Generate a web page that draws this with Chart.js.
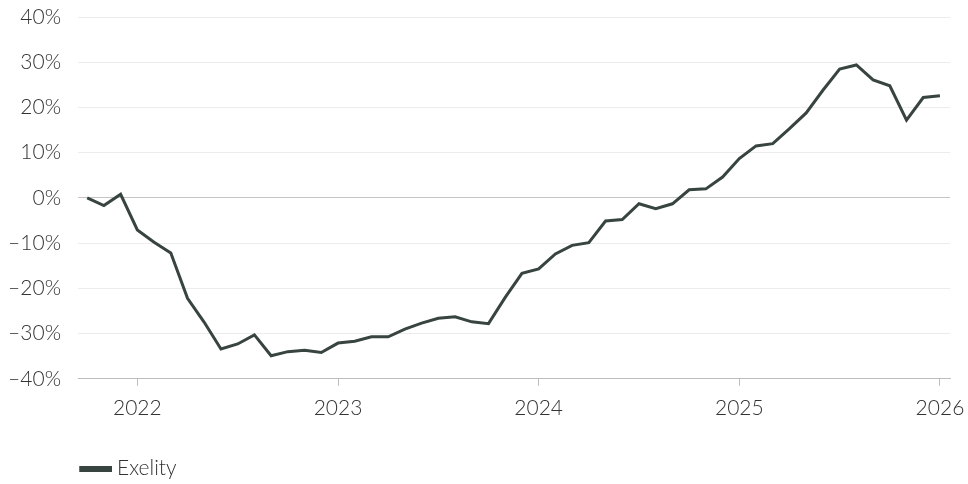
<!DOCTYPE html>
<html>
<head>
<meta charset="utf-8">
<script src="https://cdn.jsdelivr.net/npm/chart.js@4/dist/chart.umd.min.js"></script>
<style>
  html, body { margin: 0; padding: 0; background: #fff; }
  #wrap { width: 968px; height: 484px; position: relative; }
</style>
</head>
<body>
<div id="wrap"><canvas id="rel1"></canvas></div>
<script>
// meses (inicio de cada mes)
var months = [
  '2021-10','2021-11','2021-12',
  '2022-01','2022-02','2022-03','2022-04','2022-05','2022-06','2022-07','2022-08','2022-09','2022-10','2022-11','2022-12',
  '2023-01','2023-02','2023-03','2023-04','2023-05','2023-06','2023-07','2023-08','2023-09','2023-10','2023-11','2023-12',
  '2024-01','2024-02','2024-03','2024-04','2024-05','2024-06','2024-07','2024-08','2024-09','2024-10','2024-11','2024-12',
  '2025-01','2025-02','2025-03','2025-04','2025-05','2025-06','2025-07','2025-08','2025-09','2025-10','2025-11','2025-12',
  '2026-01'
];
// retorno acumulado em %
var exelity = [
  0, -1.7, 0.8,
  -7.1, -9.8, -12.2, -22.2, -27.5, -33.4, -32.3, -30.3, -34.9, -34.0, -33.7, -34.2,
  -32.1, -31.7, -30.7, -30.7, -29.0, -27.7, -26.6, -26.3, -27.4, -27.8, -22.0, -16.7,
  -15.7, -12.4, -10.5, -9.9, -5.1, -4.8, -1.3, -2.4, -1.3, 1.8, 2.0, 4.6,
  8.7, 11.5, 12.0, 15.3, 18.8, 23.8, 28.5, 29.4, 26.1, 24.8, 17.2, 22.2,
  22.6
];
var year_labels = ['2022', '2023', '2024', '2025', '2026'];
var y_ticks = [-40, -30, -20, -10, 0, 10, 20, 30, 40];

var lineColor = '#38443f';
var yearIdx = year_labels.map(function (y) { return months.indexOf(y + '-01'); });
var fonte = 'Lato, "Open Sans", sans-serif';

// marca da legenda: barra de 33x6 encostada a direita de uma imagem de 40px
var marca = document.createElement('canvas');
marca.width = 40; marca.height = 6;
var mctx = marca.getContext('2d');
mctx.fillStyle = lineColor;
mctx.fillRect(7, 0, 33, 6);

var rel1 = new Chart(document.getElementById('rel1'), {
  type: 'line',
  data: {
    datasets: [{
      label: 'Exelity',
      data: exelity.map(function (v, i) { return { x: i, y: v }; }),
      borderColor: lineColor,
      backgroundColor: lineColor,
      borderWidth: 3,
      pointRadius: 0,
      tension: 0,
      fill: false
    }]
  },
  options: {
    responsive: true,
    maintainAspectRatio: false,
    animation: false,
    layout: { padding: { top: 0, right: 0, left: 0, bottom: -5 } },
    scales: {
      x: {
        type: 'linear',
        min: -0.55,
        max: 51.6,
        afterBuildTicks: function (axis) {
          axis.ticks = yearIdx.map(function (v) { return { value: v }; });
        },
        afterFit: function (axis) {
          axis.height += 27;
          axis.paddingLeft = 0;
          axis.paddingRight = 18;
        },
        ticks: {
          autoSkip: false,
          maxRotation: 0,
          padding: 10,
          color: '#333',
          font: { family: fonte, size: 21, weight: 300 },
          callback: function (v) {
            var k = yearIdx.indexOf(v);
            return k >= 0 ? year_labels[k] : '';
          }
        },
        grid: {
          drawOnChartArea: false,
          drawTicks: true,
          tickLength: 7,
          color: '#bdbdbd'
        },
        border: { display: true, color: '#bdbdbd', width: 1 }
      },
      y: {
        min: -40,
        max: 40,
        afterBuildTicks: function (axis) {
          axis.ticks = y_ticks.map(function (v) { return { value: v }; });
        },
        afterFit: function (axis) {
          axis.width = 78;
          axis.paddingTop = 17;
          axis.paddingBottom = 0;
        },
        ticks: {
          padding: 17,
          color: '#333',
          font: { family: fonte, size: 21, weight: 300 },
          callback: function (v) { return (v < 0 ? '\u2013' + Math.abs(v) : v) + '%'; }
        },
        grid: {
          drawTicks: false,
          color: function (ctx) { return ctx.tick && ctx.tick.value === 0 ? '#c4c4c4' : '#ececec'; },
          lineWidth: 1
        },
        border: { display: false }
      }
    },
    plugins: {
      tooltip: { enabled: false },
      legend: {
        position: 'bottom',
        align: 'start',
        fullSize: false,
        labels: {
          usePointStyle: true,
          pointStyleWidth: 28.5,
          boxHeight: 6,
          padding: 0,
          color: '#333',
          font: { family: fonte, size: 21, weight: 300 },
          generateLabels: function (chart) {
            return Chart.defaults.plugins.legend.labels.generateLabels(chart).map(function (l) {
              l.lineWidth = 0;
              l.pointStyle = marca;
              return l;
            });
          }
        }
      }
    }
  }
});
</script>
</body>
</html>
